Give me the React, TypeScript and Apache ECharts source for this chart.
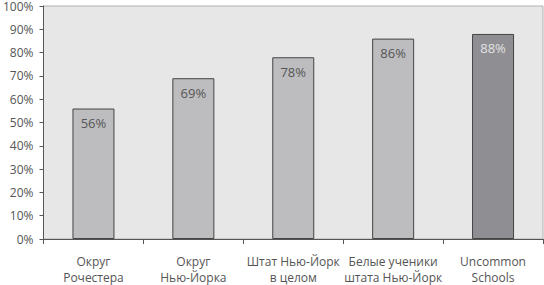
import React, { useEffect, useRef } from "react";
import * as echarts from "echarts";

const categories = [
  "Округ\nРочестера",
  "Округ\nНью-Йорка",
  "Штат Нью-Йорк\nв целом",
  "Белые ученики\nштата Нью-Йорк",
  "Uncommon\nSchools",
];
const values = [56, 69, 78, 86, 88];
const highlightIndex = 4;
const yTicks = { min: 0, max: 100, interval: 10 };

const FONT = "'Open Sans', 'Noto Sans', sans-serif";

export default function App() {
  const ref = useRef<HTMLDivElement>(null);
  useEffect(() => {
    if (!ref.current) return;
    const chart = echarts.init(ref.current, undefined, { renderer: "svg" });
    chart.setOption({
      animation: false,
      grid: {
        left: 43,
        right: 1,
        top: 6,
        bottom: 45,
        show: true,
        backgroundColor: "#e7e7e7",
        borderColor: "#b0b0b0",
        borderWidth: 1,
      },
      xAxis: {
        type: "category",
        data: categories,
        axisLine: { lineStyle: { color: "#555", width: 1 } },
        axisTick: { show: true, length: 5, alignWithLabel: false, lineStyle: { color: "#555" } },
        axisLabel: {
          color: "#555",
          fontFamily: FONT,
          fontSize: 12,
          lineHeight: 16,
          margin: 14,
          interval: 0,
        },
      },
      yAxis: {
        type: "value",
        min: yTicks.min,
        max: yTicks.max,
        interval: yTicks.interval,
        splitLine: { show: false },
        axisLine: { show: true, lineStyle: { color: "#555", width: 1 } },
        axisTick: { show: true, length: 4, lineStyle: { color: "#555" } },
        axisLabel: {
          color: "#555",
          fontFamily: FONT,
          fontSize: 12,
          margin: 10,
          formatter: "{value}%",
        },
      },
      series: [
        {
          type: "bar",
          barWidth: 42,
          data: values.map((v, i) => ({
            value: v,
            itemStyle: {
              color: i === highlightIndex ? "#8f8f93" : "#bdbdbf",
              borderColor: "#444",
              borderWidth: 1,
            },
            label: {
              color: i === highlightIndex ? "#e2e2e2" : "#555",
            },
          })),
          label: {
            show: true,
            position: "insideTop",
            distance: 8,
            formatter: "{c}%",
            fontFamily: FONT,
            fontSize: 13,
          },
        },
      ],
    });
    return () => chart.dispose();
  }, []);
  return <div ref={ref} style={{ width: 544, height: 285, position: "absolute", left: 0, top: 0 }} />;
}
